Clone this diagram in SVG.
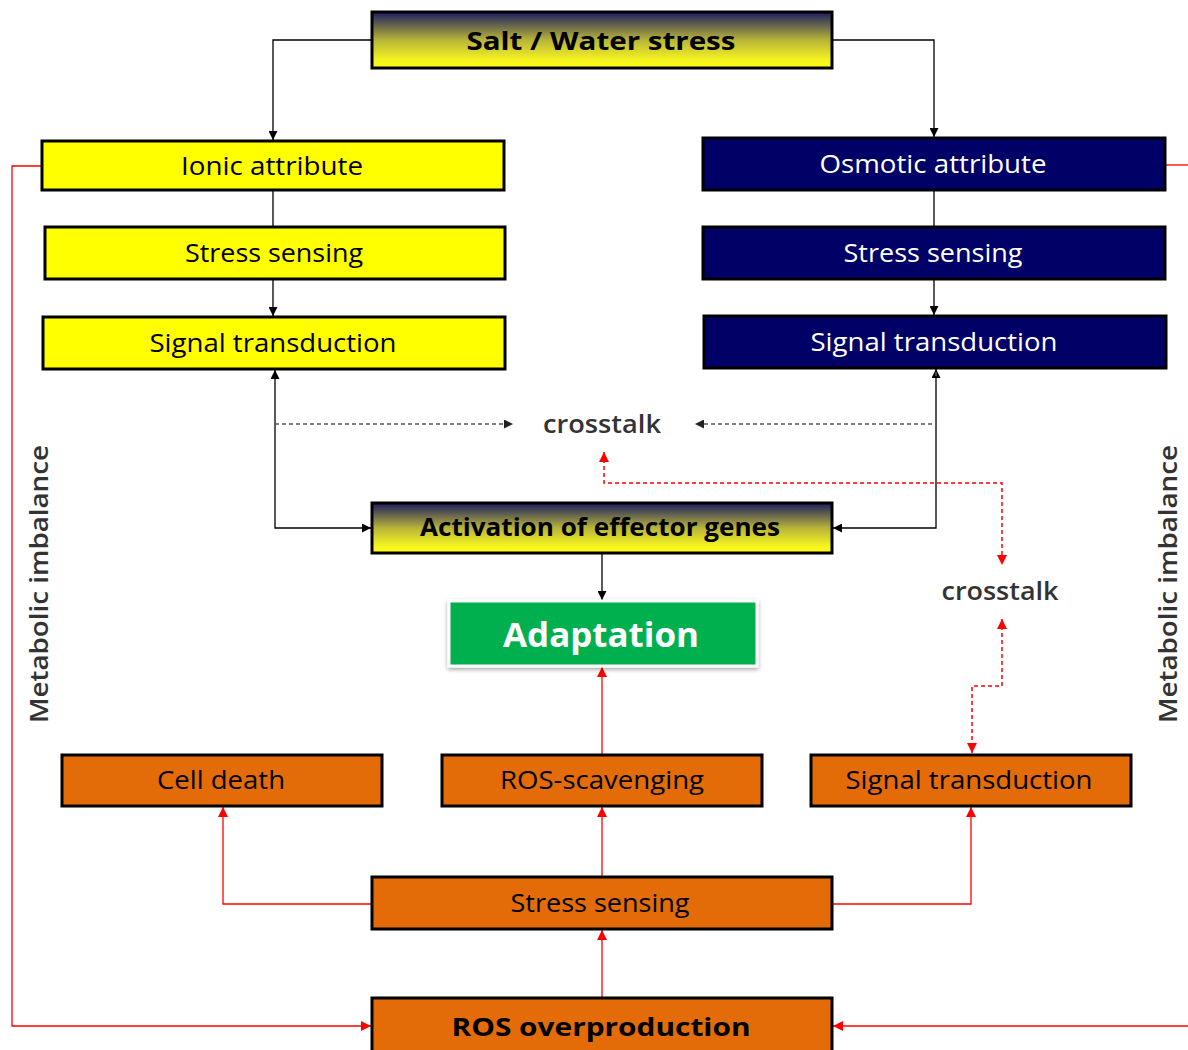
<svg xmlns="http://www.w3.org/2000/svg" width="1188" height="1050" viewBox="0 0 1188 1050">
<defs>
<linearGradient id="gy" x1="0" y1="0" x2="0" y2="1">
<stop offset="0" stop-color="#1c1c60"/>
<stop offset="0.5" stop-color="#b8b43a"/>
<stop offset="0.85" stop-color="#f4f220"/>
<stop offset="1" stop-color="#ffff10"/>
</linearGradient>
<filter id="sh" x="-10%" y="-20%" width="120%" height="150%">
<feDropShadow dx="0" dy="2" stdDeviation="2" flood-color="#000" flood-opacity="0.35"/>
</filter>
<marker id="ab" viewBox="0 0 10 10" refX="10" refY="5" markerWidth="9" markerHeight="9" markerUnits="userSpaceOnUse" orient="auto-start-reverse">
<path d="M0,0 L10,5 L0,10 z" fill="#000"/>
</marker>
<marker id="ag" viewBox="0 0 10 10" refX="10" refY="5" markerWidth="9" markerHeight="9" markerUnits="userSpaceOnUse" orient="auto-start-reverse">
<path d="M0,0 L10,5 L0,10 z" fill="#222"/>
</marker>
<marker id="ar" viewBox="0 0 10 10" refX="10" refY="5" markerWidth="10" markerHeight="10" markerUnits="userSpaceOnUse" orient="auto-start-reverse">
<path d="M0,0 L10,5 L0,10 z" fill="#ff0000"/>
</marker>
</defs>
<style>
text{font-family:"Open Sans","Noto Sans",sans-serif;text-anchor:middle}
.box{stroke:#000;stroke-width:3}
.yel{fill:#ffff00}
.nav{fill:#000066}
.ora{fill:#e36c09}
.grad{fill:url(#gy)}
.tb{fill:#000;font-size:25px}
.tw{fill:#fff;font-size:25px}
.bold{font-weight:bold}
.ct{fill:#333;font-size:25px;font-weight:600}
.blk{fill:none;stroke:#000;stroke-width:1.3}
.dsh{fill:none;stroke:#555;stroke-width:1.5;stroke-dasharray:4 3}
.red{fill:none;stroke:#ff0000;stroke-width:1.3}
.rdsh{fill:none;stroke:#ff0000;stroke-width:1.5;stroke-dasharray:4 3}
</style>

<g id="connectors">
<path class="blk" d="M372,40 H273 V140" marker-end="url(#ab)"/>
<path class="blk" d="M832,40 H934 V137" marker-end="url(#ab)"/>
<path class="blk" d="M273,190 V227"/>
<path class="blk" d="M273,279 V316" marker-end="url(#ab)"/>
<path class="blk" d="M934,190 V227"/>
<path class="blk" d="M934,279 V315" marker-end="url(#ab)"/>
<path class="blk" d="M275,370 V528 H371" marker-start="url(#ab)" marker-end="url(#ab)"/>
<path class="blk" d="M936,369 V528 H833" marker-start="url(#ab)" marker-end="url(#ab)"/>
<path class="dsh" d="M275,424 H513" marker-end="url(#ag)"/>
<path class="dsh" d="M936,372 V424 H695" marker-end="url(#ag)"/>
<path class="blk" d="M602,554 V600" marker-end="url(#ab)"/>
<path class="rdsh" d="M604,452 V483 H1002 V565" marker-start="url(#ar)" marker-end="url(#ar)"/>
<path class="rdsh" d="M1002,619 V686 H972 V753" marker-start="url(#ar)" marker-end="url(#ar)"/>
<path class="red" d="M602,754 V667" marker-end="url(#ar)"/>
<path class="red" d="M602,876 V807" marker-end="url(#ar)"/>
<path class="red" d="M372,904 H223 V807" marker-end="url(#ar)"/>
<path class="red" d="M832,904 H971 V807" marker-end="url(#ar)"/>
<path class="red" d="M602,997 V930" marker-end="url(#ar)"/>
<path class="red" d="M41,166 H12 V1026 H371" marker-end="url(#ar)"/>
<path class="red" d="M1166,165 H1190"/>
<path class="red" d="M1190,1026 H833" marker-end="url(#ar)"/>
</g>

<g id="salt-water-stress">
<rect class="box grad" x="372" y="12" width="460" height="56"/>
<text class="tb bold" x="601" y="50" font-size="28" textLength="269" lengthAdjust="spacingAndGlyphs">Salt / Water stress</text>
</g>

<g id="ionic-attribute">
<rect class="box yel" x="42" y="141" width="462" height="49"/>
<text class="tb" x="272" y="175" textLength="182" lengthAdjust="spacingAndGlyphs">Ionic attribute</text>
</g>
<g id="stress-sensing-left">
<rect class="box yel" x="45" y="227" width="460" height="52"/>
<text class="tb" x="274" y="262" textLength="178" lengthAdjust="spacingAndGlyphs">Stress sensing</text>
</g>
<g id="signal-transduction-left">
<rect class="box yel" x="43" y="317" width="462" height="52"/>
<text class="tb" x="273" y="352" textLength="247" lengthAdjust="spacingAndGlyphs">Signal transduction</text>
</g>

<g id="osmotic-attribute">
<rect class="box nav" x="703" y="138" width="462" height="52"/>
<text class="tw" x="933" y="173" textLength="227" lengthAdjust="spacingAndGlyphs">Osmotic attribute</text>
</g>
<g id="stress-sensing-right">
<rect class="box nav" x="703" y="227" width="462" height="52"/>
<text class="tw" x="933" y="262" textLength="179" lengthAdjust="spacingAndGlyphs">Stress sensing</text>
</g>
<g id="signal-transduction-right">
<rect class="box nav" x="704" y="316" width="462" height="52"/>
<text class="tw" x="934" y="351" textLength="247" lengthAdjust="spacingAndGlyphs">Signal transduction</text>
</g>

<g id="crosstalk-1">
<text class="ct" x="602" y="433" textLength="118" lengthAdjust="spacingAndGlyphs">crosstalk</text>
</g>

<g id="activation">
<rect class="box grad" x="372" y="503" width="460" height="50"/>
<text class="tb bold" x="600" y="536" font-size="25" textLength="360" lengthAdjust="spacingAndGlyphs">Activation of effector genes</text>
</g>

<g id="adaptation">
<rect x="449" y="601" width="308" height="65" fill="#00b050" stroke="#fff" stroke-width="3" filter="url(#sh)"/>
<text x="601" y="647" fill="#fff" font-size="34" font-weight="bold" textLength="196" lengthAdjust="spacingAndGlyphs">Adaptation</text>
</g>

<g id="crosstalk-2">
<text class="ct" x="1000" y="600" textLength="117" lengthAdjust="spacingAndGlyphs">crosstalk</text>
</g>

<g id="cell-death">
<rect class="box ora" x="62" y="755" width="320" height="51"/>
<text class="tb" x="221" y="789" textLength="128" lengthAdjust="spacingAndGlyphs">Cell death</text>
</g>
<g id="ros-scavenging">
<rect class="box ora" x="442" y="755" width="320" height="51"/>
<text class="tb" x="602" y="789" textLength="204" lengthAdjust="spacingAndGlyphs">ROS-scavenging</text>
</g>
<g id="signal-transduction-bottom">
<rect class="box ora" x="811" y="755" width="320" height="51"/>
<text class="tb" x="969" y="789" textLength="247" lengthAdjust="spacingAndGlyphs">Signal transduction</text>
</g>
<g id="stress-sensing-bottom">
<rect class="box ora" x="372" y="877" width="460" height="52"/>
<text class="tb" x="600" y="912" textLength="179" lengthAdjust="spacingAndGlyphs">Stress sensing</text>
</g>
<g id="ros-overproduction">
<rect class="box ora" x="372" y="998" width="460" height="60"/>
<text class="tb bold" x="601" y="1036" font-size="28" textLength="299" lengthAdjust="spacingAndGlyphs">ROS overproduction</text>
</g>

<g id="metabolic-left">
<text class="ct" transform="translate(48,584) rotate(-90)" x="0" y="0" textLength="278" lengthAdjust="spacingAndGlyphs">Metabolic imbalance</text>
</g>
<g id="metabolic-right">
<text class="ct" transform="translate(1177,584) rotate(-90)" x="0" y="0" textLength="278" lengthAdjust="spacingAndGlyphs">Metabolic imbalance</text>
</g>
</svg>
